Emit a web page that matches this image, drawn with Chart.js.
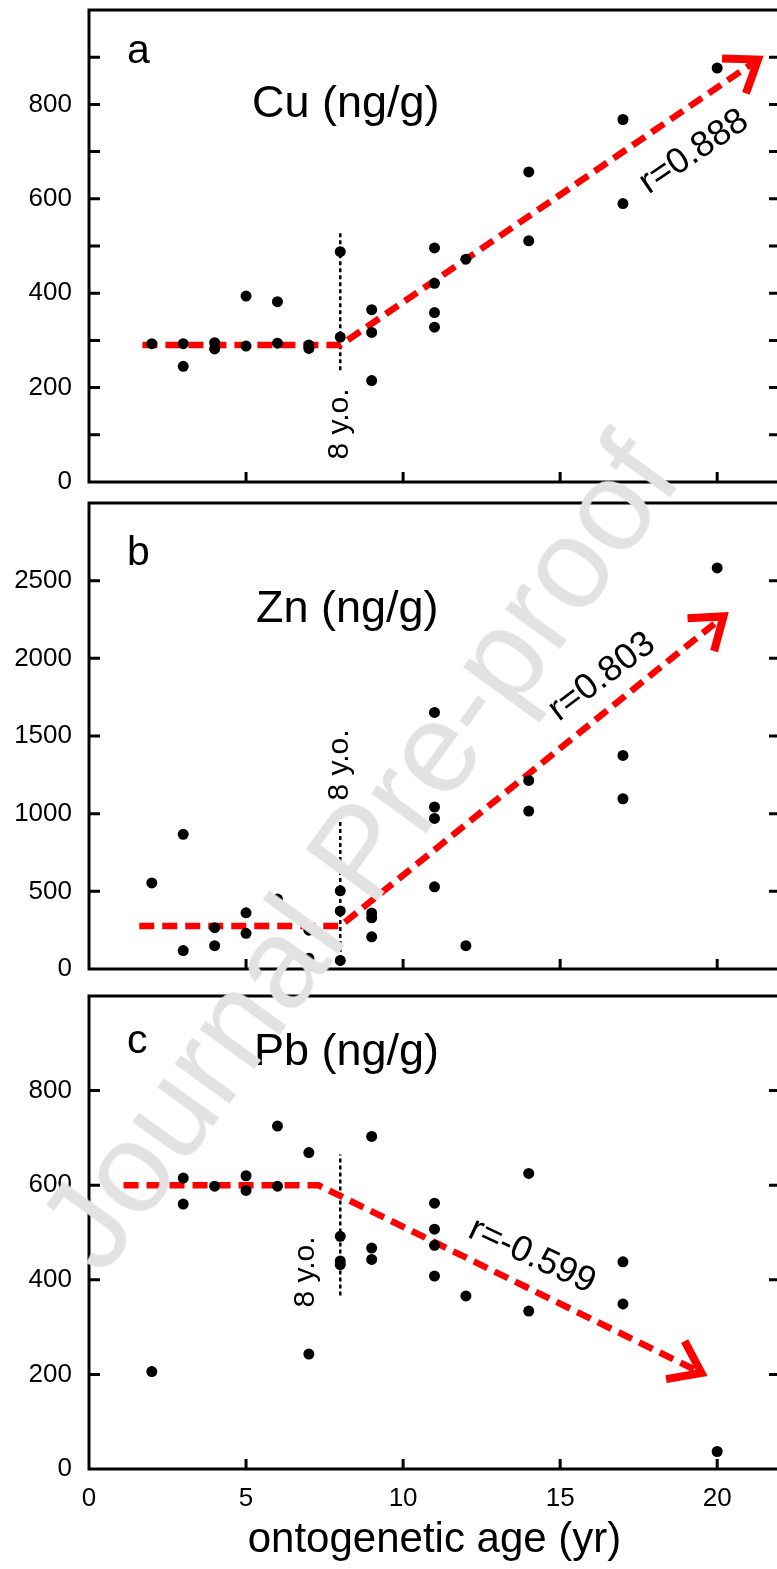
<!DOCTYPE html>
<html>
<head>
<meta charset="utf-8">
<script src="https://cdn.jsdelivr.net/npm/chart.js"></script>
<style>
html, body { margin: 0; padding: 0; background: #fff; width: 777px; height: 1569px; overflow: hidden; }
.panel { position: absolute; left: 0; width: 800px; }
#mark {
  position: absolute; left: 358px; top: 852px;
  transform: translate(-50%, -50%) rotate(-54deg);
  font-family: "Liberation Sans", Arial, sans-serif; font-size: 128px; line-height: 1;
  color: #e2e2e2; white-space: nowrap; pointer-events: none;
}
</style>
</head>
<body>
<div class="panel" style="top:0;height:492px"><canvas id="chart-a" width="800" height="492"></canvas></div>
<div class="panel" style="top:493px;height:493px"><canvas id="chart-b" width="800" height="493"></canvas></div>
<div class="panel" style="top:986px;height:583px"><canvas id="chart-c" width="800" height="583"></canvas></div>
<div id="mark">Journal Pre-proof</div>
<script>
// measured points, age (yr) and concentration (ng/g)
var cuAge = [2, 3, 3, 4, 4, 5, 5, 6, 6, 7, 7, 8, 8, 9, 9, 9, 11, 11, 11, 11, 12, 14, 14, 17, 17, 20];
var cuVal = [293, 293, 245, 295, 282, 394, 288, 382, 294, 290, 283, 488, 307, 365, 317, 215, 496, 421, 359, 328, 472, 657, 511, 768, 590, 877];

var znAge = [2, 3, 3, 4, 4, 5, 5, 6, 7, 7, 8, 8, 8, 9, 9, 9, 11, 11, 11, 11, 12, 14, 14, 17, 17, 20];
var znVal = [554, 867, 119, 266, 150, 362, 230, 450, 250, 70, 503, 374, 55, 360, 330, 207, 1652, 1043, 969, 529, 150, 1214, 1017, 1375, 1096, 2582];

var pbAge = [2, 3, 3, 4, 5, 5, 6, 6, 7, 7, 8, 8, 8, 9, 9, 9, 11, 11, 11, 11, 12, 14, 14, 17, 17, 20];
var pbVal = [206, 615, 560, 598, 620, 589, 725, 598, 669, 243, 492, 440, 432, 703, 467, 443, 562, 507, 473, 408, 366, 625, 334, 438, 349, 37];

// broken trend lines (flat until ~8 y.o., then the arrow)
var cuTrendAge = [1.7, 8, 21.3];
var cuTrendVal = [290, 290, 895];
var znTrendAge = [1.6, 8, 20.2];
var znTrendVal = [277, 277, 2270];
var pbTrendAge = [1.1, 7.3, 19.5];
var pbTrendVal = [600, 600, 203];

// dotted "8 y.o." marker
var cutAge = 8;
var cuCutVal = [237, 533];
var znCutVal = [20, 990];
var pbCutVal = [367, 665];

var xTicks = [0, 5, 10, 15, 20];
var cuTickLabels = [0, 200, 400, 600, 800];
var znTickLabels = [0, 500, 1000, 1500, 2000, 2500];
var pbTickLabels = [0, 200, 400, 600, 800];

var FONT = '"Liberation Sans", Arial, sans-serif';
Chart.defaults.font.family = FONT;
Chart.defaults.color = '#000';

function pairs(xs, ys) {
  return xs.map(function (x, i) { return { x: x, y: ys[i] }; });
}

var framePlugin = {
  id: 'frame',
  afterDatasetsDraw: function (chart, args, o) {
    var ctx = chart.ctx, a = chart.chartArea;
    var xs = chart.scales.x, ys = chart.scales.y;
    ctx.save();

    // box and inward ticks
    ctx.strokeStyle = '#000';
    ctx.lineWidth = 3;
    ctx.strokeRect(a.left, a.top, a.right - a.left, a.bottom - a.top);
    ctx.beginPath();
    ys.ticks.forEach(function (t) {
      if (t.value <= ys.min || t.value >= ys.max) return;
      var py = ys.getPixelForValue(t.value);
      ctx.moveTo(a.left, py); ctx.lineTo(a.left + 11, py);
      ctx.moveTo(a.right, py); ctx.lineTo(a.right - 11, py);
    });
    xTicks.forEach(function (v) {
      if (v <= xs.min) return;
      var px = xs.getPixelForValue(v);
      ctx.moveTo(px, a.bottom); ctx.lineTo(px, a.bottom - 10);
    });
    ctx.stroke();

    // open arrow head at the end of the trend line
    var pts = chart.getDatasetMeta(1).data;
    var p2 = pts[pts.length - 1], p1 = pts[pts.length - 2];
    var ang = Math.atan2(p2.y - p1.y, p2.x - p1.x);
    var len = 36, spread = 36 * Math.PI / 180;
    ctx.strokeStyle = '#ff0000';
    ctx.lineWidth = 8;
    ctx.lineJoin = 'miter';
    ctx.beginPath();
    ctx.moveTo(p2.x - len * Math.cos(ang - spread), p2.y - len * Math.sin(ang - spread));
    ctx.lineTo(p2.x, p2.y);
    ctx.lineTo(p2.x - len * Math.cos(ang + spread), p2.y - len * Math.sin(ang + spread));
    ctx.stroke();

    // labels
    ctx.fillStyle = '#000';
    o.texts.forEach(function (t) {
      ctx.save();
      ctx.translate(t.x, t.y);
      ctx.rotate((t.rot || 0) * Math.PI / 180);
      ctx.font = t.size + 'px ' + FONT;
      ctx.textAlign = t.align || 'left';
      ctx.textBaseline = t.base || 'alphabetic';
      ctx.fillText(t.text, 0, 0);
      ctx.restore();
    });
    ctx.restore();
  }
};

function makeChart(id, p) {
  return new Chart(document.getElementById(id), {
    type: 'scatter',
    data: {
      datasets: [
        {
          data: pairs(p.age, p.val),
          backgroundColor: '#000',
          borderWidth: 0,
          pointRadius: 5.5
        },
        {
          data: pairs(p.trendAge, p.trendVal),
          showLine: true,
          borderColor: '#ff0000',
          borderWidth: 6.5,
          borderDash: [15, 8],
          pointRadius: 0
        },
        {
          data: pairs([cutAge, cutAge], p.cutVal),
          showLine: true,
          borderColor: '#000',
          borderWidth: 2.5,
          borderDash: [4, 3],
          pointRadius: 0
        }
      ]
    },
    options: {
      responsive: false,
      animation: false,
      events: [],
      layout: { padding: p.padding },
      plugins: {
        legend: { display: false },
        tooltip: { enabled: false },
        frame: { texts: p.texts }
      },
      scales: {
        x: {
          type: 'linear',
          min: 0,
          max: 22,
          display: p.showX,
          afterBuildTicks: function (s) { s.ticks = xTicks.map(function (v) { return { value: v }; }); },
          afterFit: function (s) {
            s.height = p.showX ? 100 : 0;
            s.paddingLeft = 0; s.paddingRight = 0;
          },
          grid: { display: false, drawTicks: false },
          border: { display: false },
          ticks: { padding: 14, font: { size: 26 }, autoSkip: false, maxRotation: 0 },
          title: { display: true, text: 'ontogenetic age (yr)', font: { size: 42 }, padding: { top: 0, bottom: 3 } }
        },
        y: {
          type: 'linear',
          min: 0,
          max: p.yMax,
          afterFit: function (s) {
            s.width = 89;
            s.paddingTop = 0; s.paddingBottom = 0;
          },
          grid: { display: false, drawTicks: false },
          border: { display: false },
          ticks: {
            stepSize: p.yStep,
            padding: 17,
            autoSkip: false,
            font: { size: 26 },
            callback: function (v) { return p.yLabels.indexOf(v) >= 0 ? String(v) : ''; }
          }
        }
      }
    },
    plugins: [framePlugin]
  });
}

makeChart('chart-a', {
  age: cuAge, val: cuVal, trendAge: cuTrendAge, trendVal: cuTrendVal, cutVal: cuCutVal,
  yMax: 1000, yStep: 100, yLabels: cuTickLabels, showX: false,
  padding: { top: 10, bottom: 10, left: 0, right: 20 },
  texts: [
    { text: 'a', x: 127, y: 63, size: 41 },
    { text: 'Cu (ng/g)', x: 252, y: 117, size: 45 },
    { text: '8 y.o.', x: 340, y: 424, size: 30, rot: -90, align: 'center', base: 'middle' },
    { text: 'r=0.888', x: 694, y: 152, size: 36, rot: -34, align: 'center', base: 'middle' }
  ]
});

makeChart('chart-b', {
  age: znAge, val: znVal, trendAge: znTrendAge, trendVal: znTrendVal, cutVal: znCutVal,
  yMax: 3000, yStep: 500, yLabels: znTickLabels, showX: false,
  padding: { top: 10, bottom: 17, left: 0, right: 20 },
  texts: [
    { text: 'b', x: 127, y: 72, size: 41 },
    { text: 'Zn (ng/g)', x: 256, y: 129, size: 45 },
    { text: '8 y.o.', x: 340, y: 272, size: 30, rot: -90, align: 'center', base: 'middle' },
    { text: 'r=0.803', x: 602, y: 184, size: 36, rot: -37, align: 'center', base: 'middle' }
  ]
});

makeChart('chart-c', {
  age: pbAge, val: pbVal, trendAge: pbTrendAge, trendVal: pbTrendVal, cutVal: pbCutVal,
  yMax: 1000, yStep: 200, yLabels: pbTickLabels, showX: true,
  padding: { top: 10, bottom: 0, left: 0, right: 20 },
  texts: [
    { text: 'c', x: 127, y: 67, size: 41 },
    { text: 'Pb (ng/g)', x: 254, y: 79, size: 45 },
    { text: '8 y.o.', x: 306, y: 286, size: 30, rot: -90, align: 'center', base: 'middle' },
    { text: 'r=-0.599', x: 532, y: 270, size: 36, rot: 25, align: 'center', base: 'middle' }
  ]
});
</script>
</body>
</html>
